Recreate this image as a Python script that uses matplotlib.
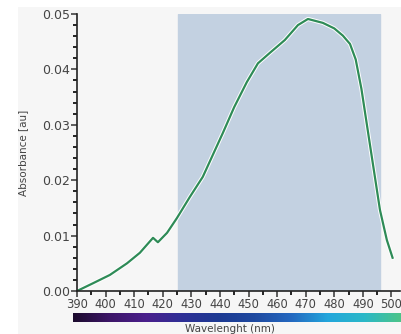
import matplotlib.pyplot as plt
import matplotlib.patheffects as pe
from matplotlib.colors import LinearSegmentedColormap
from matplotlib.patches import Rectangle
from matplotlib.ticker import MultipleLocator
import numpy as np

# absorbance spectrum
wavelength = [390, 395.6, 401.5, 407.5, 412, 416.6, 418.3, 421.5, 425, 429.5,
              434, 441, 445, 449.4, 453.3, 457.5, 462.7, 467.3, 470.8, 476, 480,
              483, 485.5, 487.5, 489.5, 492.4, 496, 498.4, 500.4]
absorbance = [0.0, 0.0014, 0.0029, 0.005, 0.0069, 0.0096, 0.0088, 0.0105, 0.0132, 0.017,
              0.0206, 0.0285, 0.0332, 0.0377, 0.0411, 0.043, 0.0453, 0.048, 0.0491, 0.0484, 0.0474,
              0.0461, 0.0446, 0.0418, 0.0365, 0.0267, 0.0146, 0.0092, 0.006]

span_start, span_end = 425.3, 496
x_ticks = list(range(390, 501, 10))
y_ticks = [0.0, 0.01, 0.02, 0.03, 0.04, 0.05]

spectrum_colors = ["#1c0b2e", "#3d1668", "#4a1f8c", "#2e2f96", "#1d3a92",
                   "#1f4aa0", "#2468c0", "#22a6dc", "#2ab8c8", "#4cc489"]

fig = plt.figure(figsize=(4.01, 3.34), dpi=100, facecolor="#f6f6f6")
fig.patches.append(Rectangle((0, 0), 18 / 401, 1, transform=fig.transFigure,
                             facecolor="white", edgecolor="none", zorder=-1))
fig.patches.append(Rectangle((0, 1 - 7 / 334), 1, 7 / 334, transform=fig.transFigure,
                             facecolor="white", edgecolor="none", zorder=-1))

ax = fig.add_axes([77 / 401, 43 / 334, 323 / 401, 277 / 334])
ax.set_facecolor("#f6f6f6")
ax.axvspan(span_start, span_end, color="#c3d1e1", zorder=0)
ax.plot(wavelength, absorbance, color="#2e8b57", lw=1.6,
        path_effects=[pe.Stroke(linewidth=3, foreground="white"), pe.Normal()])

ax.set_xlim(390, 503)
ax.set_ylim(0, 0.05)
ax.set_xticks(x_ticks)
ax.set_yticks(y_ticks)
ax.set_yticklabels([f"{v:.2f}" for v in y_ticks])
ax.xaxis.set_minor_locator(MultipleLocator(5))
ax.yaxis.set_minor_locator(MultipleLocator(0.002))
ax.tick_params(axis="y", labelsize=9, colors="#444444", length=4, width=1.2, pad=1)
ax.tick_params(axis="x", labelsize=8.3, colors="#444444", length=4, width=1.2, pad=1)
ax.tick_params(axis="both", which="minor", length=3, width=1.2)
for s in ["top", "right"]:
    ax.spines[s].set_visible(False)
for s in ["left", "bottom"]:
    ax.spines[s].set_linewidth(1.2)
    ax.spines[s].set_color("#222222")
ax.set_ylabel("Absorbance [au]", fontsize=7.5, color="#444444", labelpad=10)

# wavelength colour strip under the axis
cax = fig.add_axes([73 / 401, 12 / 334, 328 / 401, 9 / 334])
cmap = LinearSegmentedColormap.from_list("spec", spectrum_colors)
cax.imshow(np.linspace(0, 1, 256)[None, :], aspect="auto", cmap=cmap)
cax.set_axis_off()

fig.text(230 / 401, 0.5 / 334, "Wavelenght (nm)", fontsize=7.5, color="#444444",
         ha="center", va="bottom")

fig.savefig("out.png", dpi=100, facecolor=fig.get_facecolor())
